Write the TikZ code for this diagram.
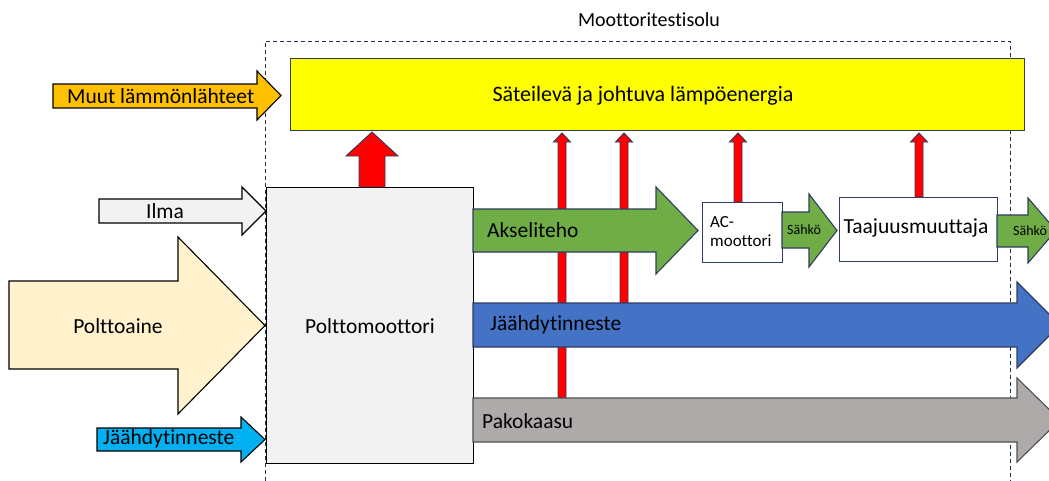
\documentclass[tikz,border=0pt]{standalone}
\usepackage{fontspec}
\setmainfont{Carlito}[Ligatures=NoCommon]
\begin{document}
\begin{tikzpicture}[x=1pt,y=-1pt,
  every node/.style={inner sep=0pt},
  lbl/.style={font=\fontsize{21.5}{23}\selectfont},
  ttl/.style={font=\fontsize{20}{22}\selectfont},
  small/.style={font=\fontsize{17}{19}\selectfont, align=left},
  tiny/.style={font=\fontsize{14}{16}\selectfont},
  navy/.style={draw=edgeblue, line width=1.1pt},
  inarrow/.style={draw=black, line width=1.1pt, line join=miter},
  boxw/.style={navy, fill=white},
  redup/.style={draw=edgeblue, line width=0.9pt, fill=red, line join=miter},
]
\definecolor{edgeblue}{HTML}{2F3E60}
\definecolor{cYellow}{HTML}{FFFF00}
\definecolor{cOrange}{HTML}{FFC000}
\definecolor{cIlma}{HTML}{F2F2F2}
\definecolor{cFuel}{HTML}{FFF2CC}
\definecolor{cCyan}{HTML}{00B0F0}
\definecolor{cGreen}{HTML}{70AD47}
\definecolor{cBlue}{HTML}{4472C4}
\definecolor{cGray}{HTML}{AEAAAA}
\definecolor{cGrayEdge}{HTML}{505050}
\definecolor{cDash}{HTML}{1F3050}
\useasboundingbox (0,0) rectangle (1049,480);
\clip (0,0) rectangle (1049,480);
% block arrow: #1 style, #2 x0, #3 head start, #4 tip, #5 body top, #6 body bottom, #7 head top, #8 head bottom
\newcommand\blkarrow[8]{%
  \path[#1] (#2,#5) -- (#3,#5) -- (#3,#7) -- (#4,{(#7+#8)/2}) -- (#3,#8) -- (#3,#6) -- (#2,#6) -- cycle;}
% vertical up arrow: #1 x, #2 bottom, #3 head base, #4 tip, #5 half body, #6 half head
\newcommand\uparr[6]{%
  \path[redup] ({#1-#5},#2) -- ({#1-#5},#3) -- ({#1-#6},#3) -- (#1,#4) -- ({#1+#6},#3) -- ({#1+#5},#3) -- ({#1+#5},#2) -- cycle;}

% dashed test cell
\draw[cDash, line width=0.9pt, dash pattern=on 4pt off 3pt] (265,495) -- (265,41) -- (1010,41) -- (1010,495);
\node[ttl] (cell) at (649,20) {Moottoritestisolu};

% yellow heat box
\node[navy, fill=cYellow, minimum width=734pt, minimum height=72pt, anchor=north west] (heat) at (290,58) {};
\node[lbl, font=\fontsize{22}{24}\selectfont] (heattxt) at (643,96) {Säteilevä ja johtuva lämpöenergia};

% input arrows
\blkarrow{inarrow, fill=cOrange}{53}{257}{281}{84}{108}{71}{120}
\node[lbl, anchor=west] (muut) at (67,96) {Muut lämmönlähteet};
\blkarrow{inarrow, fill=cIlma}{99}{242}{266}{199}{223}{187}{235}
\node[lbl] (ilma) at (165,211) {Ilma};
\blkarrow{inarrow, fill=cFuel}{9}{178}{265}{281}{369}{237}{414}
\node[lbl] (fuel) at (118,326) {Polttoaine};
\blkarrow{inarrow, fill=cCyan}{97}{241}{265}{428}{451}{417}{462}
\node[lbl, anchor=west] (jin) at (103,439) {Jäähdytinneste};

% thin red heat arrows (behind flows)
\uparr{562}{398}{142}{133}{4}{8.5}
\uparr{624}{303}{142}{133}{4}{8.5}

% engine
\node[draw=black, line width=1.2pt, fill=cIlma, minimum width=207pt, minimum height=276pt, anchor=north west] (engine) at (266,187) {};
\node[lbl] (enginetxt) at (370,326) {Polttomoottori};
\uparr{372}{187}{156}{132}{13}{26}

% flows
\blkarrow{navy, fill=cGreen}{473}{656}{698}{209}{252}{187}{274}
\node[lbl, anchor=west] (akseli) at (487,230) {Akseliteho};
\blkarrow{navy, fill=cBlue}{473}{1017}{1060}{303}{347}{282}{368}
\node[lbl, anchor=west] (jout) at (490,325) {Jäähdytinneste};
\blkarrow{draw=cGrayEdge, line width=1.1pt, fill=cGray}{473}{1017}{1060}{398}{442}{378}{462}
\node[lbl, anchor=west] (pako) at (482,421) {Pakokaasu};

% AC motor
\node[boxw, minimum width=80pt, minimum height=60pt, anchor=north west] (ac) at (702,202) {};
\node[small, anchor=west] (actxt) at (710,232) {AC-\\moottori};
\uparr{738}{202}{142}{133}{4}{8.5}
\blkarrow{navy, fill=cGreen}{782}{809}{837}{212}{248}{194}{267}
\node[tiny] (s1) at (804,230) {Sähkö};

% frequency converter
\node[boxw, minimum width=158pt, minimum height=64pt, anchor=north west] (fc) at (839,197) {};
\node[lbl] (fctxt) at (916,228) {Taajuusmuuttaja};
\uparr{919}{197}{142}{133}{4}{8.5}
\blkarrow{navy, fill=cGreen}{997}{1028}{1056}{215}{247}{198}{263}
\node[tiny] (s2) at (1030,231) {Sähkö};
\end{tikzpicture}
\end{document}
